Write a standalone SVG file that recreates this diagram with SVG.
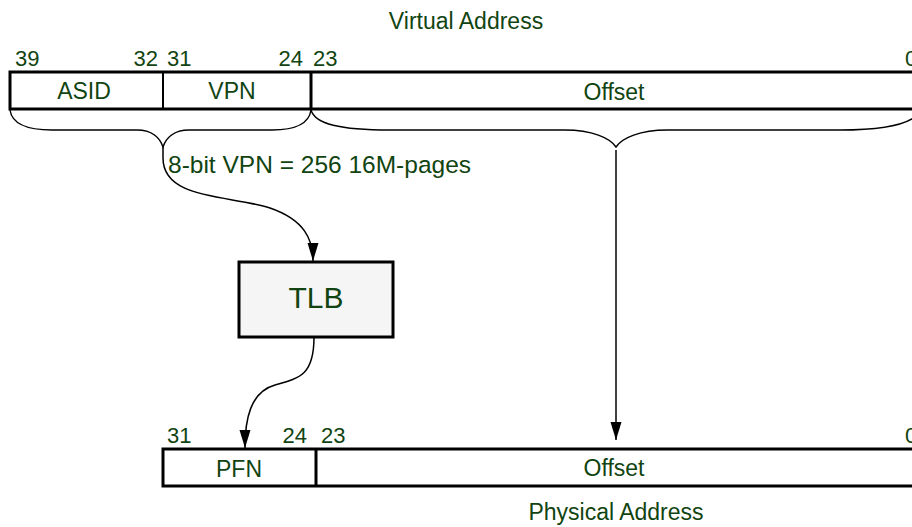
<svg xmlns="http://www.w3.org/2000/svg" width="912" height="527" viewBox="0 0 912 527">
<style>
text{font-family:"Liberation Sans",Arial,sans-serif;fill:#114411}
.n{font-size:22px}
.f{font-size:23px;text-anchor:middle}
.t{font-size:23px;text-anchor:middle}
.lbl{font-size:24.5px}
.reg{fill:#fff;stroke:#000;stroke-width:3}
.div{stroke:#000}
.br{fill:none;stroke:#000;stroke-width:1.4}
.c{fill:none;stroke:#000;stroke-width:1.5}
</style>
<defs>
<marker id="ah" markerUnits="userSpaceOnUse" markerWidth="18" markerHeight="12" refX="18" refY="6" orient="auto">
<path d="M0,0.5 L18,6 L0,11.5 z" fill="#000"/>
</marker>
</defs>
<text class="t" x="466" y="29">Virtual Address</text>
<g id="virtual-address">
<rect class="reg" x="10" y="72" width="930" height="37"/>
<line class="div" x1="163" y1="72" x2="163" y2="109" stroke-width="2"/>
<line class="div" x1="311" y1="72" x2="311" y2="109" stroke-width="3"/>
<text class="n" x="15" y="66">39</text>
<text class="n" x="158" y="66" text-anchor="end">32</text>
<text class="n" x="167" y="66">31</text>
<text class="n" x="303" y="66" text-anchor="end">24</text>
<text class="n" x="313" y="66">23</text>
<text class="n" x="905" y="66">0</text>
<text class="f" x="84" y="99">ASID</text>
<text class="f" x="232" y="99">VPN</text>
<text class="f" x="614" y="100">Offset</text>
</g>
<g id="braces">
<path class="br" d="M10,110 C12,124 28,130 52,130 L137,130 C152,130 160,138 163,147 C166,138 174,130 189,130 L272,130 C295,130 309,124 311,110"/>
<path class="br" d="M311,110 C315,124 340,130 390,130 L565,130 C592,130 610,138 616,147 C622,138 640,130 667,130 L840,130 C885,130 914,124 921,110"/>
</g>
<text class="lbl" x="168" y="173">8-bit VPN = 256 16M-pages</text>
<g id="tlb">
<rect x="239" y="262" width="154" height="75" fill="#f5f5f5" stroke="#000" stroke-width="3"/>
<text x="316" y="308" font-size="30" text-anchor="middle">TLB</text>
</g>
<g id="connectors">
<path class="c" d="M163,147 L163,158 C163,200 230,195 270,208 C305,220 313,240 313,261" marker-end="url(#ah)"/>
<path class="c" d="M314,337 C314,375 300,378 275,385 C250,392 245,420 245,448" marker-end="url(#ah)"/>
<path class="c" d="M616,150 L616,440" marker-end="url(#ah)"/>
</g>
<g id="physical-address">
<rect class="reg" x="163" y="449" width="780" height="37"/>
<line class="div" x1="316" y1="449" x2="316" y2="486" stroke-width="3"/>
<text class="n" x="167" y="443">31</text>
<text class="n" x="307" y="443" text-anchor="end">24</text>
<text class="n" x="321" y="443">23</text>
<text class="n" x="905" y="443">0</text>
<text class="f" x="239" y="477">PFN</text>
<text class="f" x="614" y="476">Offset</text>
</g>
<text class="t" x="616" y="520">Physical Address</text>
</svg>
